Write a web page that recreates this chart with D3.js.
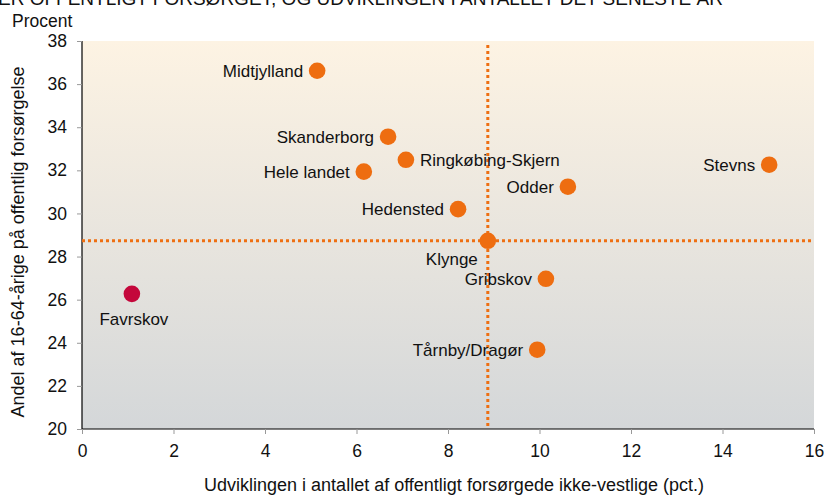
<!DOCTYPE html>
<html>
<head>
<meta charset="utf-8">
<script src="https://cdn.jsdelivr.net/npm/d3@7"></script>
<style>
  body { margin: 0; background: #fff; }
  svg { display: block; font-family: "Liberation Sans", Arial, sans-serif; }
</style>
</head>
<body>
<svg width="824" height="495"></svg>
<script>
// data
const names = ["Midtjylland", "Skanderborg", "Ringkøbing-Skjern", "Hele landet", "Hedensted",
    "Odder", "Stevns", "Klynge", "Gribskov", "Tårnby/Dragør", "Favrskov"];
const growth = [5.14, 6.69, 7.08, 6.16, 8.22, 10.62, 15.02, 8.87, 10.14, 9.95, 1.09];
const share = [36.62, 33.56, 32.49, 31.94, 30.2, 31.24, 32.26, 28.73, 26.97, 23.68, 26.27];
const labelSide = ["left", "left", "right", "left", "left", "left", "left", "belowleft", "left", "left", "below"];
const xTicks = [0, 2, 4, 6, 8, 10, 12, 14, 16];
const yTicks = [20, 22, 24, 26, 28, 30, 32, 34, 36, 38];
const refX = 8.87, refY = 28.73;

const svg = d3.select("svg");
const margin = {top: 41, right: 10, bottom: 66, left: 82};
const width = 824, height = 495;

const x = d3.scaleLinear().domain([0, 16]).range([margin.left, width - margin.right]);
const y = d3.scaleLinear().domain([20, 38]).range([height - margin.bottom, margin.top]);

const points = names.map((n, i) => ({name: n, x: growth[i], y: share[i], side: labelSide[i]}));

// background gradient
const grad = svg.append("defs").append("linearGradient")
    .attr("id", "bg").attr("x1", 0).attr("y1", 0).attr("x2", 0).attr("y2", 1);
grad.append("stop").attr("offset", 0).attr("stop-color", "#fdf3e3");
grad.append("stop").attr("offset", 1).attr("stop-color", "#d4d7d9");

svg.append("rect")
    .attr("x", x(0)).attr("y", y(38))
    .attr("width", x(16) - x(0)).attr("height", y(20) - y(38))
    .attr("fill", "url(#bg)");

// title (cut off at the top, as in the source)
svg.append("text")
    .attr("x", -2).attr("y", 5)
    .attr("font-size", 19)
    .attr("fill", "#111")
    .text("ER OFFENTLIGT FORSØRGET, OG UDVIKLINGEN I ANTALLET DET SENESTE ÅR");

svg.append("text")
    .attr("x", 12).attr("y", 27)
    .attr("font-size", 17.5)
    .attr("fill", "#111")
    .text("Procent");

// axes
const xAxis = svg.append("g")
    .attr("transform", `translate(0,${y(20)})`)
    .call(d3.axisBottom(x).tickValues(xTicks).tickSize(5).tickPadding(7).tickFormat(d3.format("d")));
const yAxis = svg.append("g")
    .attr("transform", `translate(${x(0)},0)`)
    .call(d3.axisLeft(y).tickValues(yTicks).tickSize(5).tickPadding(10).tickFormat(d3.format("d")));

[xAxis, yAxis].forEach(a => {
    a.select(".domain").attr("stroke", "#000").attr("stroke-width", 1.2)
        .attr("d", a === xAxis ? `M${x(0)},0H${x(16)}` : `M0,${y(20)}V${y(38)}`);
    a.selectAll(".tick line").attr("stroke", "#999");
    a.selectAll(".tick text").attr("font-size", 17.5).attr("fill", "#111")
        .attr("font-family", "Liberation Sans, Arial, sans-serif");
});
xAxis.selectAll(".tick text").attr("dy", "0.9em");

// axis titles
svg.append("text")
    .attr("x", 454).attr("y", 491)
    .attr("text-anchor", "middle")
    .attr("font-size", 18)
    .attr("fill", "#111")
    .text("Udviklingen i antallet af offentligt forsørgede ikke-vestlige (pct.)");

svg.append("text")
    .attr("transform", `translate(24,242) rotate(-90)`)
    .attr("text-anchor", "middle")
    .attr("font-size", 18)
    .attr("fill", "#111")
    .text("Andel af 16-64-årige på offentlig forsørgelse");

// reference lines
const ref = svg.append("g")
    .attr("stroke", "#ee6f12")
    .attr("stroke-width", 3)
    .attr("stroke-dasharray", "3,3");
ref.append("line")
    .attr("x1", x(refX)).attr("x2", x(refX))
    .attr("y1", y(38) + 4).attr("y2", y(20));
ref.append("line")
    .attr("x1", x(0)).attr("x2", x(16))
    .attr("y1", y(refY)).attr("y2", y(refY));

// points
svg.append("g")
    .selectAll("circle")
    .data(points)
    .join("circle")
    .attr("cx", d => x(d.x))
    .attr("cy", d => y(d.y))
    .attr("r", 8.3)
    .attr("fill", d => d.name === "Favrskov" ? "#c4073b" : "#ee6d10");

// labels
svg.append("g")
    .attr("font-size", 17)
    .attr("fill", "#111")
    .selectAll("text")
    .data(points)
    .join("text")
    .attr("x", d => d.side === "right" ? x(d.x) + 14 : d.side === "below" ? x(d.x) + 2
        : d.side === "belowleft" ? x(d.x) - 10 : x(d.x) - 14)
    .attr("y", d => d.side === "below" ? y(d.y) + 31 : d.side === "belowleft" ? y(d.y) + 24 : y(d.y) + 6)
    .attr("text-anchor", d => d.side === "right" ? "start" : d.side === "below" ? "middle" : "end")
    .text(d => d.name);
</script>
</body>
</html>
